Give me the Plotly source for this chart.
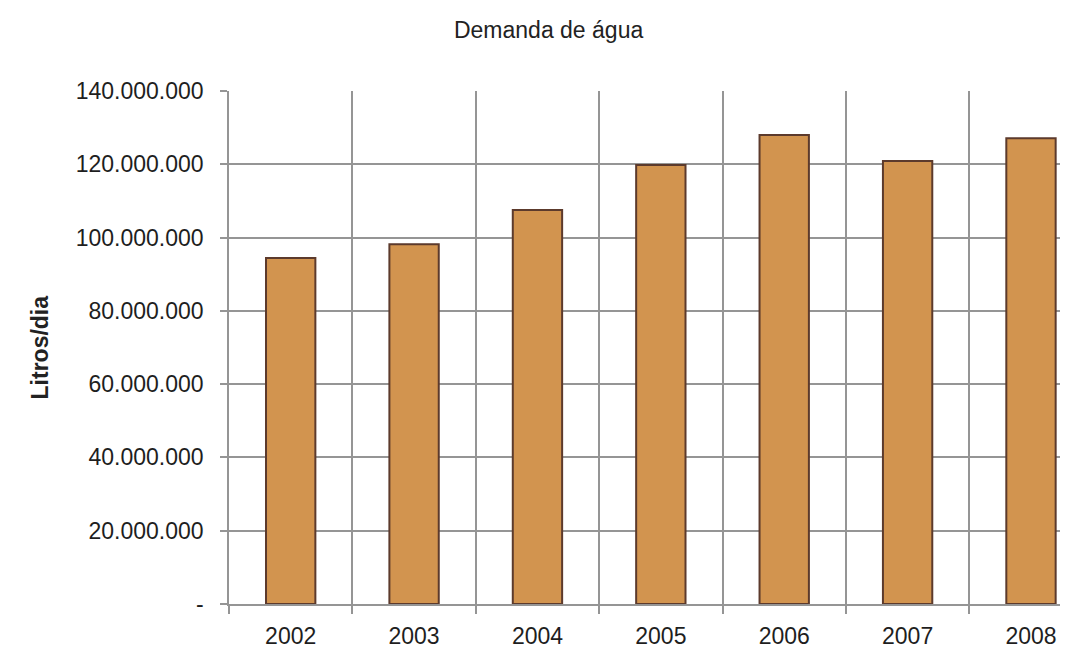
import plotly.graph_objects as go

years = ["2002", "2003", "2004", "2005", "2006", "2007", "2008"]
demand = [94_400_000, 98_200_000, 107_500_000, 119_800_000, 128_000_000, 120_900_000, 127_100_000]
ytick_vals = [0, 20_000_000, 40_000_000, 60_000_000, 80_000_000, 100_000_000, 120_000_000, 140_000_000]
ytick_text = ["-", "20.000.000", "40.000.000", "60.000.000", "80.000.000", "100.000.000", "120.000.000", "140.000.000"]

fig = go.Figure()
fig.add_trace(go.Bar(
    x=years, y=demand, width=0.4,
    marker=dict(color="#D2944F", line=dict(color="#5C3A2C", width=2)),
))

font = "Liberation Sans, Arial, sans-serif"
fig.update_layout(
    width=1060, height=641,
    margin=dict(l=221, r=0, t=83, b=45),
    plot_bgcolor="white", paper_bgcolor="white",
    showlegend=False,
    title=dict(text="Demanda de água", x=0.51, xanchor="center", y=0.966, yanchor="middle",
               font=dict(family=font, size=23, color="#222")),
    font=dict(family=font, color="#222"),
)
fig.add_annotation(
    text="<b>Litros/dia</b>", xref="paper", yref="paper", x=-0.2253, y=0.5,
    xanchor="center", yanchor="middle", textangle=-90, showarrow=False,
    font=dict(family=font, size=23, color="#222"),
)
fig.update_xaxes(
    type="category", range=[-0.5, 6.3], tickson="boundaries",
    showgrid=True, gridcolor="#959595", gridwidth=1.5,
    ticks="outside", ticklen=8, tickcolor="#959595", tickwidth=1.5,
    showline=True, linecolor="#959595", linewidth=1.5,
    ticklabelstandoff=11,
    tickfont=dict(family=font, size=23, color="#1e1e1e"),
)
fig.update_yaxes(
    range=[0, 140_000_000], tickvals=ytick_vals, ticktext=ytick_text,
    showgrid=True, gridcolor="#959595", gridwidth=1.5,
    ticks="outside", ticklen=7, tickcolor="#959595", tickwidth=1.5,
    showline=True, linecolor="#959595", linewidth=1.5,
    zeroline=False, ticklabelstandoff=12,
    tickfont=dict(family=font, size=23, color="#1e1e1e"),
)
fig.write_html("out.html")
